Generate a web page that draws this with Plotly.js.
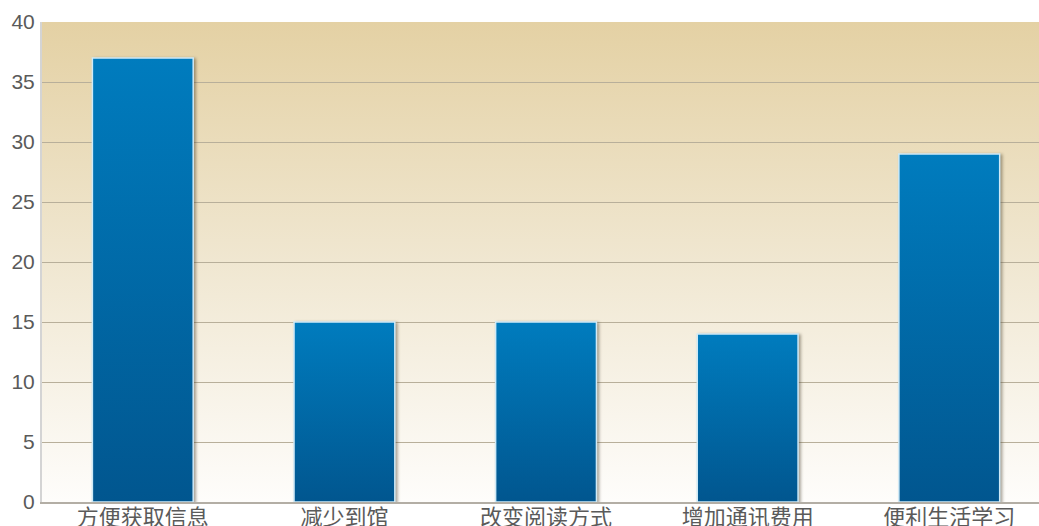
<!DOCTYPE html>
<html>
<head>
<meta charset="utf-8">
<script src="https://cdn.plot.ly/plotly-3.0.1.min.js"></script>
<style>
  html, body { margin: 0; padding: 0; background: #ffffff; }
  #chart { width: 1039px; height: 526px; }
</style>
</head>
<body>
<div id="chart"></div>
<script>
const categories = ["方便获取信息", "减少到馆", "改变阅读方式", "增加通讯费用", "便利生活学习"];
const values = [37, 15, 15, 14, 29];
const yTicks = [0, 5, 10, 15, 20, 25, 30, 35, 40];

const trace = {
  type: "bar",
  x: categories,
  y: values,
  marker: { color: "#0070b0", line: { color: "#cfeaf7", width: 1.5 } },
  hoverinfo: "none"
};

const layout = {
  width: 1039,
  height: 526,
  margin: { l: 42, r: 0, t: 22, b: 24 },
  paper_bgcolor: "#ffffff",
  plot_bgcolor: "#f0e6cc",
  bargap: 0.5,
  showlegend: false,
  xaxis: {
    type: "category",
    range: [-0.5, 4.445],
    showgrid: false,
    zeroline: false,
    showline: true,
    linecolor: "#b3aea5",
    linewidth: 2,
    ticks: "",
    ticklabelstandoff: -5,
    tickfont: { family: "Noto Sans CJK SC, sans-serif", size: 22, color: "#5a5a5a" },
    fixedrange: true
  },
  yaxis: {
    range: [0, 40],
    tickvals: yTicks,
    ticktext: yTicks.map(String),
    showgrid: true,
    gridcolor: "#b8af9a",
    gridwidth: 1,
    zeroline: false,
    showline: true,
    linecolor: "#d4d4d4",
    linewidth: 2,
    ticks: "",
    ticklabelstandoff: 1,
    tickfont: { family: "Liberation Sans, Arial, sans-serif", size: 21, color: "#5a5a5a" },
    fixedrange: true
  }
};

Plotly.newPlot("chart", [trace], layout, { staticPlot: true, displayModeBar: false }).then(function (gd) {
  const svgNS = "http://www.w3.org/2000/svg";
  const svg = gd.querySelector("svg.main-svg");
  let defs = svg.querySelector("defs");
  if (!defs) { defs = document.createElementNS(svgNS, "defs"); svg.insertBefore(defs, svg.firstChild); }
  function grad(id, stops) {
    const g = document.createElementNS(svgNS, "linearGradient");
    g.setAttribute("id", id);
    g.setAttribute("x1", "0"); g.setAttribute("y1", "0");
    g.setAttribute("x2", "0"); g.setAttribute("y2", "1");
    stops.forEach(function (s) {
      const st = document.createElementNS(svgNS, "stop");
      st.setAttribute("offset", s[0]);
      st.setAttribute("stop-color", s[1]);
      g.appendChild(st);
    });
    defs.appendChild(g);
  }
  grad("bgGrad", [["0", "#e4d1a4"], ["0.5", "#f0e7d1"], ["1", "#fefdfb"]]);
  grad("barGrad", [["0", "#007cbe"], ["1", "#01568f"]]);
  const bg = svg.querySelector(".bglayer rect.bg");
  if (bg) bg.style.fill = "url(#bgGrad)";
  svg.querySelectorAll(".barlayer .point path").forEach(function (p) {
    p.style.fill = "url(#barGrad)";
    p.style.filter = "drop-shadow(2px 1px 1.5px rgba(60,50,30,0.45))";
  });
});
</script>
</body>
</html>
